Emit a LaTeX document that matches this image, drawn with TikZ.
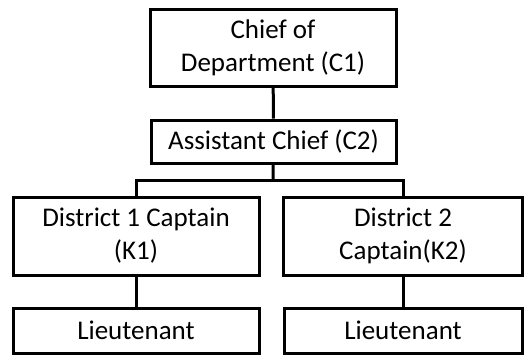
\documentclass[tikz,border=0pt]{standalone}
\usepackage{fontspec}
\setmainfont{Carlito}
\usepackage{tikz}

\begin{document}
\begin{tikzpicture}[
			     x=1pt, y=-1pt,
			     rank box/.style={draw, line width=3pt, align=center, inner sep=0pt,
			                      font=\fontsize{27}{33}\selectfont},
			     tie line/.style={line width=3pt}
			     ]
\useasboundingbox (0,0) rectangle (527,360);
% top of the chain
\node[rank box, minimum width=246pt, minimum height=77pt] (chief) at (273,47.5) {Chief of\\Department (C1)};
\node[rank box, minimum width=245pt, minimum height=43pt] (assist) at (273.5,141.5) {Assistant Chief (C2)};
% districts
\node[rank box, minimum width=246pt, minimum height=78pt] (capt1) at (136,236) {District 1 Captain\\(K1)};
\node[rank box, minimum width=239pt, minimum height=78pt] (capt2) at (403,236) {District 2\\Captain(K2)};
\node[rank box, minimum width=246pt, minimum height=45pt] (lieut1) at (136,330.5) {Lieutenant};
\node[rank box, minimum width=238pt, minimum height=45pt] (lieut2) at (403,330.5) {Lieutenant};
\coordinate (split) at (273,180);
\draw[tie line] (chief) -- (assist);
\draw[tie line] (assist) -- (split);
\draw[tie line] (split) -| (capt1);
\draw[tie line] (split) -| (capt2);
\draw[tie line] (capt1) -- (lieut1);
\draw[tie line] (capt2) -- (lieut2);
\end{tikzpicture}
\end{document}
